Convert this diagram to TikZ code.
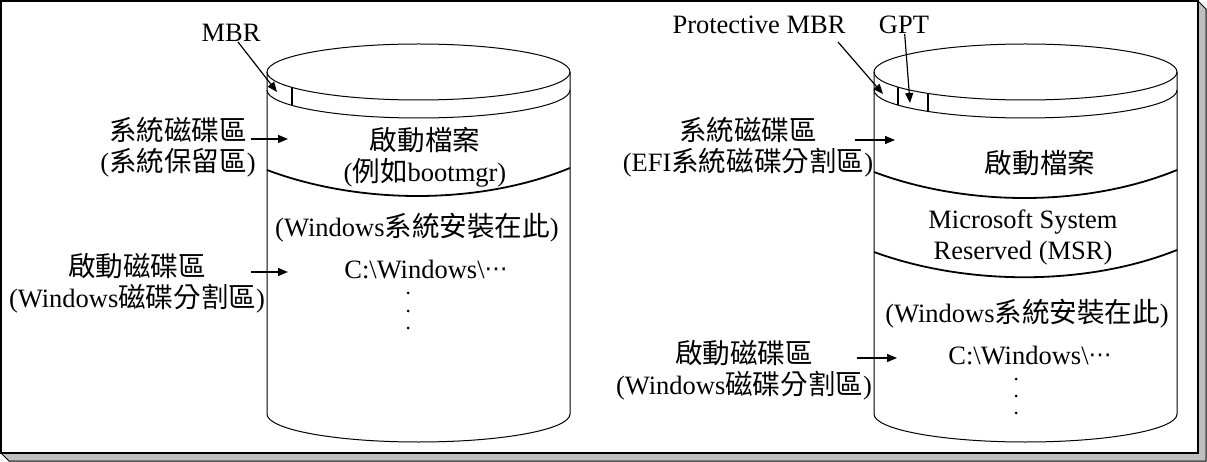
\documentclass[tikz,border=0pt]{standalone}
\usepackage{fontspec}
\setmainfont{Liberation Serif}
\newfontfamily\cjk[Scale=1.04]{Noto Sans CJK TC}
\newfontfamily\symb{DejaVu Sans}
\newcommand{\mdots}{\raisebox{2pt}{\symb\fontsize{23}{23}\selectfont ⋯}}
\usetikzlibrary{arrows.meta,positioning}

\begin{document}
\begin{tikzpicture}[x=1pt,y=-1pt,>={Triangle[length=10pt,width=8pt]},
                    font=\fontsize{26.5}{31}\selectfont,
                    txt/.style={inner sep=0pt,align=center},
                    ptr/.style={->,line width=1.2pt},
                    wave/.style={line width=1.8pt},
                    disk/.style={line width=1pt},
                    mark line/.style={line width=1.5pt}]
    \useasboundingbox (0,0) rectangle (1207,462);

    % frame and its shadow
    \draw[line width=1pt,fill=black!25] (1198,1) -- (1206,9) -- (1206,461)
        -- (9,461) -- (1,453) -- (1198,453) -- cycle;
    \draw[line width=1.2pt] (1,1) rectangle (1198,453);

    % left disk: MBR
    \draw[disk] (418.5,72) ellipse [x radius=151.5, y radius=28];
    \draw[disk] (267,90) arc [start angle=180, end angle=0, x radius=151.5, y radius=28];
    \draw[disk] (267,72) -- (267,414)
        arc [start angle=180, end angle=0, x radius=151.5, y radius=28] -- (570,72);
    \draw[mark line] (292,87.4) -- (292,105.4);
    \draw[wave] (267,170) .. controls (360,205) and (480,205) .. (570,168);

    % right disk: GPT
    \draw[disk] (1025.5,72) ellipse [x radius=151.5, y radius=28];
    \draw[disk] (874,90) arc [start angle=180, end angle=0, x radius=151.5, y radius=28];
    \draw[disk] (874,72) -- (874,414)
        arc [start angle=180, end angle=0, x radius=151.5, y radius=28] -- (1177,72);
    \draw[mark line] (898,87.1) -- (898,105.1);
    \draw[mark line] (928,93.4) -- (928,111.4);
    \draw[wave] (874,172) .. controls (967,207) and (1087,207) .. (1177,170);
    \draw[wave] (874,252) .. controls (967,286) and (1087,286) .. (1177,250);

    % texts of the left disk
    \node[txt] (mbr)    at (231,33)    {MBR};
    \node[txt] (sysL)   at (178,147.5) {{\cjk 系統磁碟區}\\({\cjk 系統保留區})};
    \node[txt] (bootL)  at (425,157.5) {{\cjk 啟動檔案}\\({\cjk 例如}bootmgr)};
    \node[txt] (winL)   at (417,228)   {(Windows{\cjk 系統安裝在此})};
    \node[txt] (pathL)  at (426,270)   {C:\textbackslash Windows\textbackslash\mdots};
    \node[txt] (startL) at (137,283.5) {{\cjk 啟動磁碟區}\\(Windows{\cjk 磁碟分割區})};
    \foreach \y in {293,311,328}
        \fill (408,\y) circle (1.5);

    % texts of the right disk
    \node[txt] (pmbr)   at (759,25)    {Protective MBR};
    \node[txt] (gpt)    at (904,25)    {GPT};
    \node[txt] (sysR)   at (748,147.5) {{\cjk 系統磁碟區}\\(EFI{\cjk 系統磁碟分割區})};
    \node[txt] (bootR)  at (1040,163)  {{\cjk 啟動檔案}};
    \node[txt] (msr)    at (1023,237.5) {Microsoft System\\Reserved (MSR)};
    \node[txt] (winR)   at (1027,314)  {(Windows{\cjk 系統安裝在此})};
    \node[txt] (pathR)  at (1030,356)  {C:\textbackslash Windows\textbackslash\mdots};
    \node[txt] (startR) at (744,370)   {{\cjk 啟動磁碟區}\\(Windows{\cjk 磁碟分割區})};
    \foreach \y in {379,396,413}
        \fill (1016,\y) circle (1.5);

    % arrow ends
    \coordinate (mbrTip)    at (277,92);
    \coordinate (pmbrTail)  at (838,42);
    \coordinate (pmbrTip)   at (883,94);
    \coordinate (gptTip)    at (910,103);
    \coordinate (sysLTail)  at (251,139);
    \coordinate (sysLTip)   at (288,139);
    \coordinate (startLTail) at (251,272);
    \coordinate (startLTip) at (288,272);
    \coordinate (sysRTail)  at (855,140);
    \coordinate (sysRTip)   at (895,140);
    \coordinate (startRTail) at (857,358);
    \coordinate (startRTip) at (897,358);

    \draw[ptr] (mbr)        -- (mbrTip);
    \draw[ptr] (pmbrTail)   -- (pmbrTip);
    \draw[ptr] (gpt)        -- (gptTip);
    \draw[ptr] (sysLTail)   -- (sysLTip);
    \draw[ptr] (startLTail) -- (startLTip);
    \draw[ptr] (sysRTail)   -- (sysRTip);
    \draw[ptr] (startRTail) -- (startRTip);
\end{tikzpicture}
\end{document}
